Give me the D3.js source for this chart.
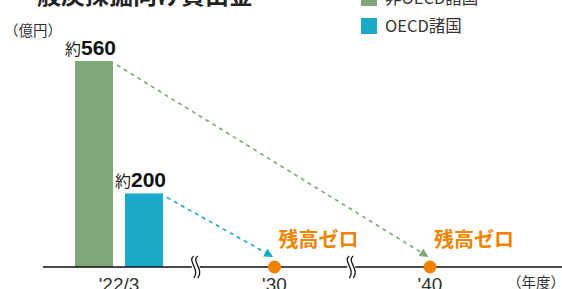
<!DOCTYPE html>
<html><head><meta charset="utf-8">
<script src="https://cdn.jsdelivr.net/npm/d3@7"></script>
<style>body{margin:0;background:#fff}svg{display:block}</style>
</head><body>
<svg id="c" width="562" height="289"></svg>
<script>
const categories = ["'22/3", "'30", "'40"];
const series = ["非OECD諸国", "OECD諸国"];
const values = [560, 200];            // at '22/3
const zeroYears = ["'40", "'30"];     // year each series reaches zero
const valueLabels = ["560", "200"];
const colors = ["#7fa777", "#1aaac8"];
const arrowColors = ["#7fa777", "#1aaac8"];
const orange = "#f08300";

const svg = d3.select("#c");
const jp = "'Noto Sans CJK JP','Noto Sans',sans-serif";
const num = "'Liberation Sans',Arial,sans-serif";

const x = d3.scalePoint().domain(categories).range([119, 430]);
const xs = d3.scaleBand().domain(series).range([-44, 44]).paddingInner(0.24).paddingOuter(0);
const y = d3.scaleLinear().domain([0, 560]).range([267, 61]);

// title (cut off)
svg.append("text").attr("x", 13).attr("y", 4).attr("font-family", jp).attr("font-weight", 700)
  .attr("font-size", 24).attr("fill", "#222").text("一般炭採掘向け貸出金");

// units
svg.append("text").attr("x", 4).attr("y", 36).attr("font-family", jp).attr("font-size", 14.5)
  .attr("fill", "#333").text("（億円）");
svg.append("text").attr("x", 507).attr("y", 288).attr("font-family", jp).attr("font-size", 14.5)
  .attr("fill", "#333").text("（年度）");

// legend
series.forEach((s, i) => {
  const ly = -10 + i * 28;
  svg.append("rect").attr("x", 361).attr("y", ly).attr("width", 16).attr("height", 16).attr("fill", colors[i]);
  svg.append("text").attr("x", 385).attr("y", ly + 14).attr("font-family", jp).attr("font-size", 16.5)
    .attr("fill", "#333").text(s);
});

// bars
series.forEach((s, i) => {
  const bx = x(categories[0]) + xs(s);
  svg.append("rect").attr("x", bx).attr("y", y(values[i])).attr("width", xs.bandwidth())
    .attr("height", y(0) - y(values[i])).attr("fill", colors[i]);
  const t = svg.append("text").attr("x", bx - 10).attr("y", y(values[i]) - 6);
  t.append("tspan").attr("font-family", jp).attr("font-size", 16).attr("fill", "#222").text("約");
  t.append("tspan").attr("font-family", num).attr("font-weight", 700).attr("font-size", 21)
    .attr("fill", "#111").text(valueLabels[i]);
});

// arrow markers
const defs = svg.append("defs");
arrowColors.forEach((c, i) => {
  defs.append("marker").attr("id", "ah" + i).attr("viewBox", "0 0 10 10").attr("refX", 8).attr("refY", 5)
    .attr("markerWidth", 9).attr("markerHeight", 9).attr("orient", "auto").attr("markerUnits", "userSpaceOnUse")
    .append("path").attr("d", "M0,0L10,5L0,10Z").attr("fill", c);
});

// dashed arrows
series.forEach((s, i) => {
  const bx = x(categories[0]) + xs(s) + xs.bandwidth();
  const x1 = bx + 4, y1 = y(values[i]) + 4;
  const x2 = x(zeroYears[i]) - 3, y2 = y(0) - 11;
  svg.append("line").attr("x1", x1).attr("y1", y1).attr("x2", x2).attr("y2", y2)
    .attr("stroke", arrowColors[i]).attr("stroke-width", 1.6).attr("stroke-dasharray", "4,4")
    .attr("marker-end", "url(#ah" + i + ")");
});

// axis
svg.append("line").attr("x1", 43).attr("x2", 562).attr("y1", y(0)).attr("y2", y(0))
  .attr("stroke", "#111").attr("stroke-width", 1.5);

// break marks
for (let k = 0; k < categories.length - 1; k++) {
  const mx = (x(categories[k]) + x(categories[k + 1])) / 2 - 1;
  const cy = y(0);
  svg.append("rect").attr("x", mx - 4).attr("y", cy - 2).attr("width", 8).attr("height", 4).attr("fill", "#fff");
  [-2, 2].forEach(dx => {
    svg.append("path")
      .attr("d", `M${mx + dx},${cy - 11} C${mx + dx - 7},${cy - 6} ${mx + dx + 7},${cy + 3} ${mx + dx},${cy + 11}`)
      .attr("fill", "none").attr("stroke", "#111").attr("stroke-width", 1.3);
  });
}

// x labels
categories.forEach(c => {
  svg.append("text").attr("x", x(c)).attr("y", 291).attr("text-anchor", "middle")
    .attr("font-family", num).attr("font-size", 19).attr("fill", "#333").text(c);
});

// zero dots and labels
zeroYears.forEach(c => {
  svg.append("circle").attr("cx", x(c)).attr("cy", y(0)).attr("r", 6.5).attr("fill", orange);
  svg.append("text").attr("x", x(c) + 4).attr("y", y(0) - 20).attr("font-family", jp).attr("font-weight", 700)
    .attr("font-size", 20).attr("fill", orange).text("残高ゼロ");
});
</script>
</body></html>
